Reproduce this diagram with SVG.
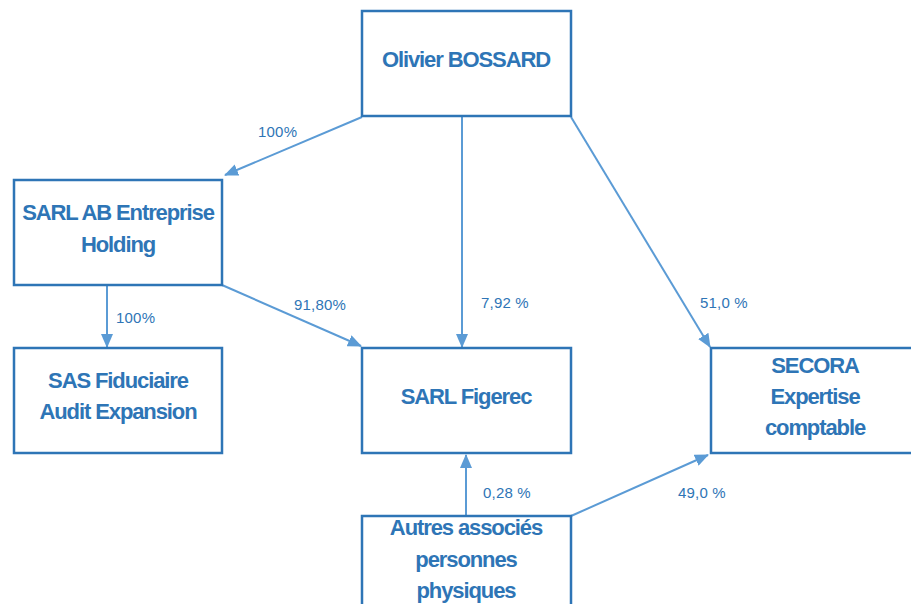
<svg xmlns="http://www.w3.org/2000/svg" width="911" height="604" viewBox="0 0 911 604">
<style>
.box{fill:#fff;stroke:#2E75B6;stroke-width:2.5}
.t{font-family:"Liberation Sans",Arial,sans-serif;font-weight:bold;font-size:22px;fill:#2E75B6;text-anchor:middle;letter-spacing:-1.1px}
.p{font-family:"Liberation Sans",Arial,sans-serif;font-size:15px;fill:#2E75B6;letter-spacing:0.2px}
.c{stroke:#5B9BD5;stroke-width:2;fill:none;marker-end:url(#ah)}
</style>
<defs>
<marker id="ah" markerUnits="userSpaceOnUse" markerWidth="14" markerHeight="12" refX="13" refY="6" orient="auto">
<path d="M0,0 L14,6 L0,12 Z" fill="#5B9BD5"/>
</marker>
</defs>
<rect width="911" height="604" fill="#fff"/>
<g id="connectors">
<line class="c" x1="362" y1="117" x2="225" y2="175"/>
<line class="c" x1="462" y1="117" x2="462" y2="347"/>
<line class="c" x1="571" y1="117" x2="710" y2="347"/>
<line class="c" x1="107" y1="286" x2="107" y2="347"/>
<line class="c" x1="222" y1="285" x2="361" y2="346"/>
<line class="c" x1="466" y1="516" x2="466" y2="455"/>
<line class="c" x1="571" y1="516" x2="708" y2="455"/>
</g>
<g id="labels">
<text class="p" x="258" y="137">100%</text>
<text class="p" x="116" y="323">100%</text>
<text class="p" x="294" y="310">91,80%</text>
<text class="p" x="481" y="308">7,92 %</text>
<text class="p" x="700" y="308">51,0 %</text>
<text class="p" x="483" y="498">0,28 %</text>
<text class="p" x="678" y="498">49,0 %</text>
</g>
<g id="n-olivier">
<rect class="box" x="362" y="11" width="209" height="105"/>
<text class="t" x="466" y="67">Olivier BOSSARD</text>
</g>
<g id="n-sarlab">
<rect class="box" x="14" y="180" width="208" height="105"/>
<text class="t" x="118" y="220">SARL AB Entreprise</text>
<text class="t" x="118" y="252">Holding</text>
</g>
<g id="n-sas">
<rect class="box" x="14" y="348" width="208" height="105"/>
<text class="t" x="118" y="388">SAS Fiduciaire</text>
<text class="t" x="118" y="419">Audit Expansion</text>
</g>
<g id="n-figerec">
<rect class="box" x="362" y="348" width="209" height="105"/>
<text class="t" x="466" y="404">SARL Figerec</text>
</g>
<g id="n-secora">
<rect class="box" x="711" y="348" width="210" height="105"/>
<text class="t" x="815" y="373">SECORA</text>
<text class="t" x="815" y="404">Expertise</text>
<text class="t" x="815" y="435">comptable</text>
</g>
<g id="n-autres">
<rect class="box" x="362" y="516" width="209" height="105"/>
<text class="t" x="466" y="535">Autres associés</text>
<text class="t" x="466" y="567">personnes</text>
<text class="t" x="466" y="598">physiques</text>
</g>
</svg>
